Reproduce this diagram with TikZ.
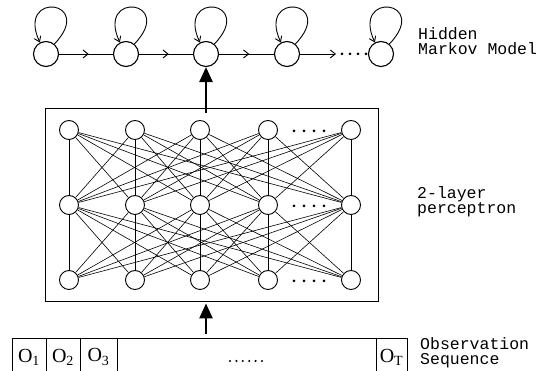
\documentclass[tikz,border=0pt]{standalone}
\usepackage{fontspec}
\setmainfont{Liberation Serif}
\newfontfamily\labelmono{Liberation Mono}
\usetikzlibrary{arrows.meta,decorations.markings,calc}
\begin{document}
\begin{tikzpicture}[x=1pt,y=-1pt,
  hstate/.style={circle,draw,line width=1.1pt,minimum size=25pt,inner sep=0pt},
  neuron/.style={circle,draw,line width=0.9pt,minimum size=19pt,inner sep=0pt},
  conn/.style={line width=0.6pt},
  trans/.style={line width=0.9pt,postaction={decorate},
    decoration={markings,mark=at position 0.55 with {\arrow{Straight Barb[length=5pt,width=8pt]}}}},
  selfloop/.style={line width=0.9pt,-{Straight Barb[length=5pt,width=7pt]}},
  bigarrow/.style={line width=2.6pt,-{Triangle[length=15pt,width=13pt]}},
  lbl/.style={font=\labelmono\fontsize{16.5}{15}\selectfont,align=left,anchor=north west,inner sep=0pt},
  blob/.style={circle,fill,inner sep=0pt,minimum size=3pt},
  smallblob/.style={circle,fill,inner sep=0pt,minimum size=2.3pt},
  cell/.style={font=\fontsize{20}{20}\selectfont,inner sep=0pt},
  boxline/.style={line width=0.9pt}
]
\useasboundingbox (0,0) rectangle (542,371);

% Hidden Markov Model
\node[hstate] (s1) at (46,54) {};
\node[hstate] (s2) at (126,54) {};
\node[hstate] (s3) at (206,54) {};
\node[hstate] (s4) at (287,54) {};
\node[hstate] (s5) at (381,54) {};
\foreach \i in {1,...,5}{
  \draw[selfloop] (s\i.50) .. controls +(42,-44) and +(-24,-52) .. (s\i.118);
}
\draw[trans] (s1) -- (s2);
\draw[trans] (s2) -- (s3);
\draw[trans] (s3) -- (s4);
\coordinate (a4) at (336,54);
\draw[line width=0.9pt,-{Straight Barb[length=5pt,width=8pt]}] (s4) -- (a4);
\foreach \x in {342,350,358,366}{ \node[blob] at (\x,54) {}; }
\node[lbl] (hmm) at (418,27) {Hidden\\Markov Model};

% Perceptron
\node[draw,boxline,minimum width=333pt,minimum height=193pt,inner sep=0pt] (perc) at (211.5,204.5) {};
\foreach \c/\x in {1/69,2/135,3/200,4/268,5/351}{
  \node[neuron] (n1\c) at (\x,130) {};
  \node[neuron] (n2\c) at (\x,205) {};
  \node[neuron] (n3\c) at (\x,280) {};
}
\foreach \i in {1,...,5}{
  \foreach \j in {1,...,5}{
    \draw[conn] (n1\i) -- (n2\j);
    \draw[conn] (n2\i) -- (n3\j);
  }
}
\foreach \y in {131,206,281}{
  \foreach \x in {294,304,314,324}{ \node[blob] at (\x,\y) {}; }
}
\node[lbl] (plbl) at (417,186) {2-layer\\perceptron};

% arrows
\draw[bigarrow] ([yshift=-5pt]perc.north -| s3) -- (s3.south);
\draw[bigarrow] (206,334) -- ([yshift=-2pt]perc.south -| s3);

% Observation sequence
\draw[boxline] (12,371) |- (407,338) -- (407,371);
\foreach \x in {46,80,117,376}{ \draw[boxline] (\x,338) -- (\x,371); }
\node[cell] (o1) at (29,357) {O\textsubscript{1}};
\node[cell] (o2) at (63,357) {O\textsubscript{2}};
\node[cell] (o3) at (98.5,357) {O\textsubscript{3}};
\node[cell] (oT) at (391.5,357) {O\textsubscript{T}};
\foreach \x in {230,236.4,242.8,249.2,255.6,262}{ \node[smallblob] at (\x,361) {}; }
\node[lbl] (olbl) at (420,337) {Observation\\Sequence};
\end{tikzpicture}
\end{document}
